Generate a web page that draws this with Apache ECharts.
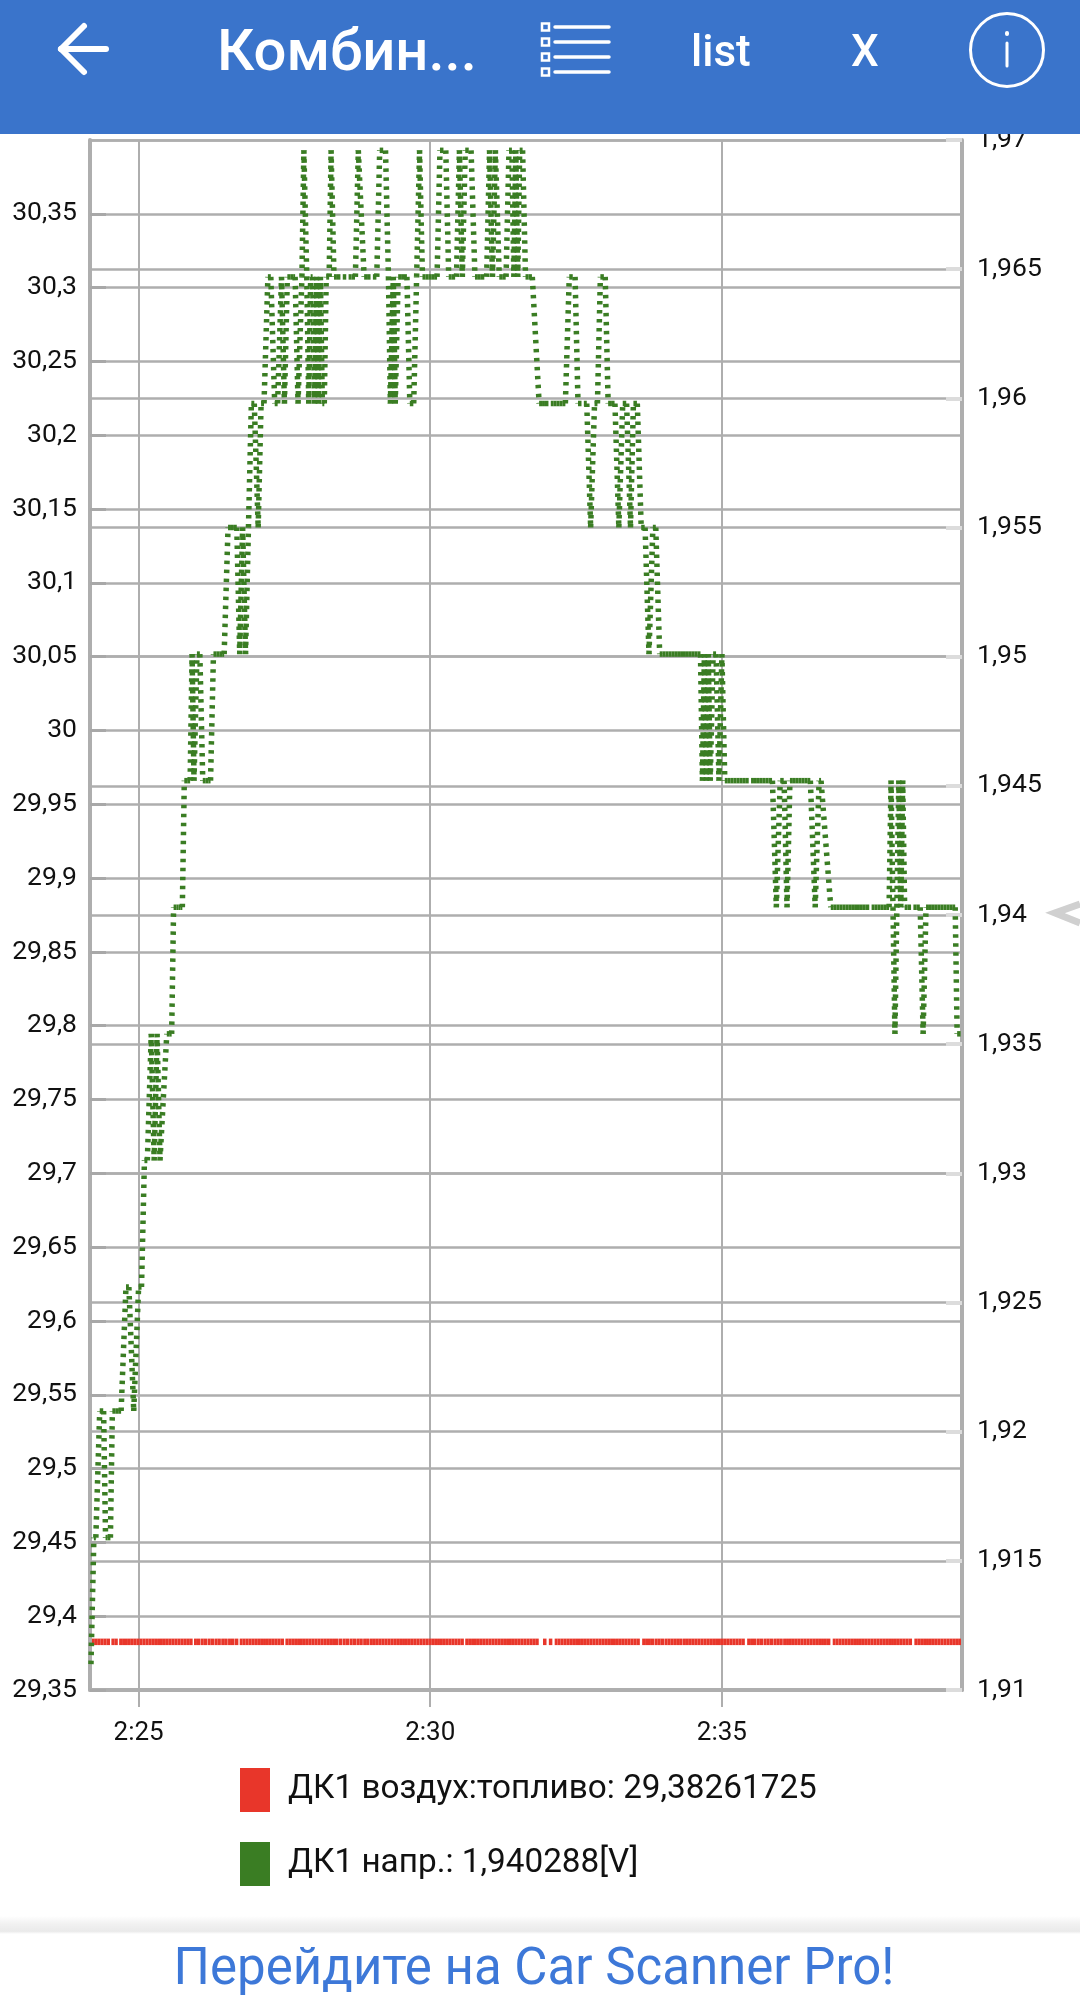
<!DOCTYPE html>
<html>
<head>
<meta charset="utf-8">
<style>
  html, body { margin: 0; padding: 0; background: #fff; }
  #chart { width: 1080px; height: 2000px; }
</style>
<script src="https://cdn.jsdelivr.net/npm/echarts@6/dist/echarts.min.js"></script>
</head>
<body>
<div id="chart"></div>
<script>
// x values are seconds of the day, 8700 = 2:25
const xTicks = [8700, 9000, 9300]

const redName = 'ДК1 воздух:топливо: 29,38261725'
const greenName = 'ДК1 напр.: 1,940288[V]'

const redValue = 29.38261725
const redTimes = [
  8652, 8655, 8658, 8661, 8664, 8667, 8672, 8675, 8680, 8683,
  8686, 8689, 8692, 8695, 8698, 8701, 8704, 8707, 8710, 8713,
  8716, 8719, 8722, 8725, 8728, 8731, 8734, 8737, 8740, 8743,
  8746, 8749, 8752, 8757, 8760, 8764, 8767, 8771, 8774, 8778,
  8781, 8785, 8788, 8792, 8795, 8799, 8804, 8807, 8810, 8813,
  8816, 8819, 8822, 8825, 8828, 8831, 8834, 8837, 8840, 8843,
  8846, 8851, 8854, 8857, 8860, 8863, 8866, 8869, 8872, 8875,
  8878, 8881, 8884, 8887, 8890, 8893, 8896, 8899, 8902, 8906,
  8910, 8913, 8917, 8920, 8924, 8927, 8931, 8934, 8938, 8941,
  8944, 8947, 8950, 8953, 8956, 8959, 8962, 8965, 8968, 8971,
  8974, 8977, 8980, 8983, 8986, 8989, 8992, 8995, 8998, 9001,
  9004, 9007, 9010, 9013, 9016, 9019, 9022, 9025, 9028, 9031,
  9036, 9039, 9042, 9045, 9048, 9051, 9054, 9057, 9060, 9063,
  9066, 9069, 9072, 9075, 9078, 9081, 9084, 9087, 9090, 9093,
  9096, 9099, 9102, 9105, 9108, 9116, 9122, 9128, 9131, 9134,
  9137, 9140, 9143, 9146, 9149, 9152, 9155, 9158, 9161, 9164,
  9167, 9170, 9173, 9176, 9179, 9182, 9185, 9188, 9191, 9194,
  9197, 9200, 9203, 9206, 9209, 9212, 9218, 9221, 9224, 9227,
  9231, 9234, 9237, 9241, 9244, 9247, 9250, 9253, 9256, 9260,
  9263, 9266, 9269, 9272, 9275, 9278, 9281, 9284, 9287, 9290,
  9293, 9296, 9299, 9302, 9305, 9308, 9311, 9314, 9317, 9320,
  9326, 9329, 9332, 9336, 9339, 9343, 9346, 9349, 9353, 9356,
  9359, 9363, 9366, 9369, 9372, 9375, 9378, 9381, 9384, 9387,
  9390, 9393, 9396, 9399, 9402, 9405, 9408, 9414, 9417, 9420,
  9423, 9426, 9429, 9432, 9435, 9438, 9441, 9444, 9447, 9450,
  9453, 9456, 9459, 9462, 9465, 9468, 9471, 9474, 9477, 9480,
  9483, 9486, 9489, 9492, 9498, 9501, 9504, 9507, 9510, 9513,
  9516, 9519, 9522, 9525, 9528, 9531, 9534, 9537, 9540, 9543,
  9546
]

const greenTimes = [
  8651, 8654, 8656, 8660, 8664, 8666, 8668, 8671, 8673, 8676,
  8679, 8682, 8687, 8690, 8695, 8700, 8703, 8706, 8709, 8713,
  8716, 8719, 8722, 8729, 8732, 8734, 8736, 8739, 8741, 8743,
  8745, 8747, 8750, 8753, 8755, 8757, 8760, 8763, 8766, 8769,
  8772, 8774, 8777, 8780, 8783, 8786, 8788, 8792, 8795, 8798,
  8801, 8804, 8807, 8810, 8813, 8816, 8819, 8823, 8826, 8829,
  8833, 8836, 8840, 8843, 8847, 8850, 8853, 8856, 8859, 8861,
  8864, 8868, 8870, 8873, 8875, 8877, 8879, 8881, 8883, 8885,
  8887, 8889, 8891, 8893, 8896, 8898, 8901, 8904, 8910, 8916,
  8919, 8923, 8926, 8932, 8935, 8941, 8945, 8948, 8954, 8957,
  8959, 8962, 8964, 8967, 8970, 8973, 8976, 8979, 8983, 8986,
  8989, 8992, 8995, 8998, 9001, 9004, 9007, 9010, 9016, 9019,
  9022, 9027, 9030, 9033, 9036, 9042, 9046, 9049, 9052, 9058,
  9061, 9064, 9067, 9071, 9074, 9078, 9081, 9084, 9086, 9088,
  9090, 9092, 9095, 9098, 9101, 9105, 9112, 9115, 9118, 9124,
  9127, 9130, 9133, 9136, 9139, 9143, 9149, 9152, 9158, 9161,
  9165, 9169, 9172, 9175, 9180, 9183, 9186, 9190, 9194, 9198,
  9202, 9206, 9209, 9213, 9217, 9221, 9225, 9229, 9232, 9236,
  9239, 9242, 9245, 9248, 9251, 9254, 9257, 9260, 9263, 9266,
  9269, 9272, 9275, 9278, 9280, 9282, 9284, 9286, 9288, 9291,
  9294, 9297, 9300, 9303, 9306, 9309, 9312, 9315, 9318, 9321,
  9324, 9330, 9333, 9336, 9339, 9342, 9345, 9348, 9352, 9356,
  9360, 9364, 9367, 9370, 9373, 9376, 9379, 9382, 9385, 9388,
  9391, 9396, 9400, 9402, 9412, 9415, 9418, 9421, 9424, 9427,
  9430, 9433, 9436, 9439, 9442, 9445, 9448, 9454, 9457, 9460,
  9463, 9466, 9469, 9472, 9474, 9476, 9478, 9480, 9482, 9484,
  9486, 9488, 9491, 9497, 9500, 9504, 9507, 9510, 9513, 9516,
  9519, 9522, 9525, 9528, 9531, 9534, 9537, 9540, 9542, 9546
]

const greenVolts = [
  1.911, 1.9159, 1.9159, 1.9208, 1.9208, 1.9159, 1.9159, 1.9159, 1.9208, 1.9208,
  1.9208, 1.9208, 1.9256, 1.9256, 1.9208, 1.9256, 1.9256, 1.9305, 1.9305, 1.9354,
  1.9305, 1.9354, 1.9305, 1.9354, 1.9354, 1.9354, 1.9403, 1.9403, 1.9403, 1.9403,
  1.9403, 1.9452, 1.9452, 1.9452, 1.9501, 1.9452, 1.9501, 1.9501, 1.9452, 1.9452,
  1.9452, 1.9452, 1.9501, 1.9501, 1.9501, 1.9501, 1.9501, 1.955, 1.955, 1.955,
  1.955, 1.9501, 1.955, 1.9501, 1.955, 1.9598, 1.9598, 1.955, 1.9598, 1.9598,
  1.9647, 1.9647, 1.9598, 1.9598, 1.9647, 1.9598, 1.9647, 1.9647, 1.9647, 1.9647,
  1.9598, 1.9647, 1.9696, 1.9647, 1.9598, 1.9647, 1.9647, 1.9598, 1.9647, 1.9598,
  1.9647, 1.9598, 1.9598, 1.9647, 1.9647, 1.9696, 1.9647, 1.9647, 1.9647, 1.9647,
  1.9647, 1.9647, 1.9696, 1.9647, 1.9647, 1.9647, 1.9647, 1.9696, 1.9696, 1.9647,
  1.9598, 1.9647, 1.9598, 1.9647, 1.9647, 1.9647, 1.9647, 1.9598, 1.9598, 1.9647,
  1.9696, 1.9647, 1.9647, 1.9647, 1.9647, 1.9647, 1.9647, 1.9696, 1.9696, 1.9647,
  1.9647, 1.9647, 1.9696, 1.9647, 1.9696, 1.9696, 1.9647, 1.9647, 1.9647, 1.9647,
  1.9696, 1.9647, 1.9696, 1.9647, 1.9647, 1.9647, 1.9696, 1.9696, 1.9647, 1.9696,
  1.9647, 1.9696, 1.9696, 1.9647, 1.9647, 1.9647, 1.9598, 1.9598, 1.9598, 1.9598,
  1.9598, 1.9598, 1.9598, 1.9598, 1.9598, 1.9647, 1.9647, 1.9598, 1.9598, 1.9598,
  1.955, 1.9598, 1.9598, 1.9647, 1.9647, 1.9598, 1.9598, 1.9598, 1.955, 1.9598,
  1.9598, 1.955, 1.9598, 1.9598, 1.955, 1.955, 1.9501, 1.955, 1.955, 1.9501,
  1.9501, 1.9501, 1.9501, 1.9501, 1.9501, 1.9501, 1.9501, 1.9501, 1.9501, 1.9501,
  1.9501, 1.9501, 1.9501, 1.9501, 1.9452, 1.9501, 1.9452, 1.9501, 1.9452, 1.9501,
  1.9501, 1.9452, 1.9501, 1.9452, 1.9452, 1.9452, 1.9452, 1.9452, 1.9452, 1.9452,
  1.9452, 1.9452, 1.9452, 1.9452, 1.9452, 1.9452, 1.9452, 1.9452, 1.9452, 1.9403,
  1.9452, 1.9452, 1.9403, 1.9452, 1.9452, 1.9452, 1.9452, 1.9452, 1.9452, 1.9452,
  1.9452, 1.9403, 1.9452, 1.9452, 1.9403, 1.9403, 1.9403, 1.9403, 1.9403, 1.9403,
  1.9403, 1.9403, 1.9403, 1.9403, 1.9403, 1.9403, 1.9403, 1.9403, 1.9403, 1.9403,
  1.9403, 1.9403, 1.9403, 1.9403, 1.9452, 1.9403, 1.9354, 1.9403, 1.9452, 1.9403,
  1.9452, 1.9403, 1.9403, 1.9403, 1.9403, 1.9403, 1.9354, 1.9403, 1.9403, 1.9403,
  1.9403, 1.9403, 1.9403, 1.9403, 1.9403, 1.9403, 1.9403, 1.9403, 1.9354, 1.9354
]

const RED = '#e8362a'
const GREEN = '#3a7d23'
const GRID = '#aeaeae'
const HEADER = '#3a74cb'

// every sample pair is its own line, so the dash pattern restarts at each sample
function toSegments(times, values) {
  const out = []
  for (let i = 0; i < times.length - 1; i++) {
    out.push([times[i], values[i], times[i + 1], values[i + 1]])
  }
  return out
}

function dashedSeries(name, color, yAxisIndex, width, data) {
  return {
    name: name,
    type: 'custom',
    xAxisIndex: 0,
    yAxisIndex: yAxisIndex,
    silent: true,
    animation: false,
    progressive: 0,
    itemStyle: { color: color },
    encode: { x: [0, 2], y: [1, 3] },
    data: data,
    renderItem(params, api) {
      const a = api.coord([api.value(0), api.value(1)])
      const b = api.coord([api.value(2), api.value(3)])
      return {
        type: 'line',
        shape: { x1: a[0], y1: a[1], x2: b[0], y2: b[1] },
        style: { stroke: color, fill: null, lineWidth: width, lineDash: [3.5, 5.5], lineCap: 'butt' },
      }
    },
  }
}

function decimalComma(v) {
  return String(+v.toFixed(3)).replace('.', ',')
}

function clock(v) {
  const m = Math.round(v / 60)
  return Math.floor(m / 60) + ':' + String(m % 60).padStart(2, '0')
}

function whiteLine(x1, y1, x2, y2, w) {
  return {
    type: 'line', z: 100,
    shape: { x1: x1, y1: y1, x2: x2, y2: y2 },
    style: { stroke: '#fff', lineWidth: w, lineCap: 'round' },
  }
}

function headerText(text, x, font) {
  return {
    type: 'text', z: 100,
    style: { text: text, x: x, y: 55, fill: '#fff', font: font, textAlign: 'left', textVerticalAlign: 'middle' },
  }
}

function listBox(y) {
  return {
    type: 'rect', z: 100,
    shape: { x: 542, y: y - 3.5, width: 7, height: 7 },
    style: { stroke: '#fff', fill: HEADER, lineWidth: 2.5 },
  }
}

const graphics = [
  { type: 'rect', z: 99, shape: { x: 0, y: 0, width: 1080, height: 134 }, style: { fill: HEADER } },
  whiteLine(61, 49, 106, 49, 6),
  whiteLine(84, 26, 61, 49, 6),
  whiteLine(84, 72, 61, 49, 6),
  headerText('Комбин...', 217, '500 58px Roboto'),
  listBox(27), listBox(42), listBox(57), listBox(72),
  whiteLine(555, 27, 609, 27, 3.5),
  whiteLine(555, 42, 609, 42, 3.5),
  whiteLine(555, 57, 609, 57, 3.5),
  whiteLine(555, 72, 609, 72, 3.5),
  headerText('list', 691, '500 44px Roboto'),
  headerText('X', 851, '500 44px Roboto'),
  {
    type: 'circle', z: 100,
    shape: { cx: 1007, cy: 50, r: 36.5 },
    style: { stroke: '#fff', fill: null, lineWidth: 3 },
  },
  whiteLine(1007, 33, 1007, 34, 4),
  whiteLine(1007, 43, 1007, 66, 3),
  // side handle
  {
    type: 'polyline', z: 100,
    shape: { points: [[1080, 904], [1055, 913], [1080, 923]] },
    style: { stroke: '#d0d0d0', fill: null, lineWidth: 7 },
  },
  // footer
  {
    type: 'rect', z: 100,
    shape: { x: 0, y: 1916, width: 1080, height: 18 },
    style: {
      fill: new echarts.graphic.LinearGradient(0, 0, 0, 1, [
        { offset: 0, color: '#ffffff' },
        { offset: 0.4, color: '#f2f2f2' },
        { offset: 0.85, color: '#eaeaea' },
        { offset: 1, color: '#ffffff' },
      ]),
    },
  },
  {
    type: 'text', z: 100,
    style: {
      text: 'Перейдите на Car Scanner Pro!', x: 534, y: 1971, fill: '#3d78d8',
      font: '400 51px Roboto', textAlign: 'center', textVerticalAlign: 'middle',
    },
  },
]

const chart = echarts.init(document.getElementById('chart'), null, { renderer: 'canvas' })

chart.setOption({
  animation: false,
  backgroundColor: '#fff',
  textStyle: { fontFamily: 'Roboto' },
  grid: { left: 90, right: 118, top: 140, bottom: 310 },
  legend: {
    orient: 'vertical',
    left: 240,
    top: 1768,
    padding: 0,
    itemWidth: 30,
    itemHeight: 44,
    itemGap: 30,
    selectedMode: false,
    textStyle: { fontSize: 33.3, fontFamily: 'Roboto', color: '#111', padding: [8, 0, 0, 13] },
    data: [{ name: redName, icon: 'rect' }, { name: greenName, icon: 'rect' }],
  },
  xAxis: {
    type: 'value',
    min: 8650,
    max: 9547,
    axisLine: { lineStyle: { color: GRID, width: 4 } },
    axisTick: { customValues: xTicks, length: 17, lineStyle: { color: GRID, width: 2 } },
    axisLabel: { customValues: xTicks, margin: 30, fontSize: 26, color: '#111', formatter: clock },
    splitLine: { show: true, lineStyle: { color: GRID, width: 2 } },
  },
  yAxis: [
    {
      type: 'value',
      position: 'left',
      min: 29.35,
      max: 30.4,
      interval: 0.05,
      axisLine: { show: true, lineStyle: { color: GRID, width: 4 } },
      axisTick: { show: true, inside: true, length: 16, lineStyle: { color: '#a8a8a8', width: 3 } },
      axisLabel: { margin: 13, fontSize: 26.5, color: '#111', showMaxLabel: false, padding: [6, 0, 0, 0], formatter: decimalComma },
      splitLine: { show: true, lineStyle: { color: GRID, width: 2.5 } },
    },
    {
      type: 'value',
      position: 'right',
      min: 1.91,
      max: 1.97,
      interval: 0.005,
      axisLine: { show: true, lineStyle: { color: GRID, width: 4 } },
      axisTick: { show: true, inside: true, length: 16, lineStyle: { color: '#dcdcdc', width: 4 } },
      axisLabel: { margin: 15, fontSize: 26.5, color: '#111', padding: [6, 0, 0, 0], formatter: decimalComma },
      splitLine: { show: true, lineStyle: { color: GRID, width: 2.5 } },
    },
  ],
  series: [
    dashedSeries(redName, RED, 0, 6.5, toSegments(redTimes, redTimes.map(() => redValue))),
    dashedSeries(greenName, GREEN, 1, 5.5, toSegments(greenTimes, greenVolts)),
  ],
  graphic: graphics,
})
</script>
</body>
</html>
